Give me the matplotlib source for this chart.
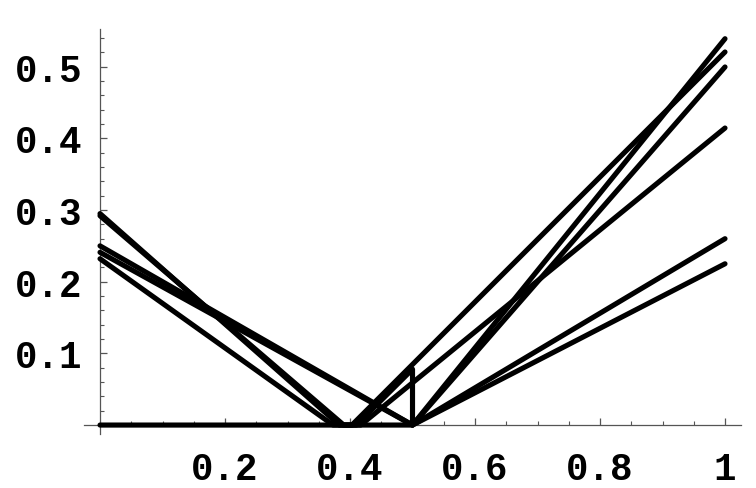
import matplotlib
import matplotlib.pyplot as plt
from matplotlib.ticker import MultipleLocator

matplotlib.pyplot.switch_backend('Agg')

# piecewise linear curves
x_a1 = [0, 0.383, 0.403, 1]
y_a1 = [0.295, 0, 0, 0.5205]
x_a2 = [0, 0.39, 0.417, 1]
y_a2 = [0.292, 0, 0, 0.4144]
x_d = [0, 0.373, 0.41, 0.5, 0.5, 1]
y_d = [0.232, 0, 0, 0.078, 0, 0.539]
x_b = [0, 0.5, 1]
y_b = [0.250, 0, 0.26]
x_c = [0, 0.5, 1]
y_c = [0.241, 0, 0.225]
x_z = [0, 0.5, 1]
y_z = [0, 0, 0.4996]

x_ticks = [0.2, 0.4, 0.6, 0.8, 1]
x_labels = ["0.2", "0.4", "0.6", "0.8", "1"]
y_ticks = [0.1, 0.2, 0.3, 0.4, 0.5]
y_labels = ["0.1", "0.2", "0.3", "0.4", "0.5"]

fig = plt.figure(figsize=(7.56, 4.89), dpi=100)
ax = fig.add_axes([0.1108, 0.1104, 0.8697, 0.8289])

for xs, ys in [(x_z, y_z), (x_a1, y_a1), (x_a2, y_a2), (x_d, y_d), (x_b, y_b), (x_c, y_c)]:
    ax.plot(xs, ys, color="black", linewidth=3.7, solid_capstyle="round",
            solid_joinstyle="round", clip_on=False, zorder=3)

ax.set_xlim(-0.026, 1.026)
ax.set_ylim(-0.0125, 0.553)

for side in ["top", "right"]:
    ax.spines[side].set_visible(False)
ax.spines["left"].set_position(("data", 0))
ax.spines["bottom"].set_position(("data", 0))
for side in ["left", "bottom"]:
    ax.spines[side].set_color("#555555")
    ax.spines[side].set_linewidth(0.9)

ax.set_xticks(x_ticks)
ax.set_xticklabels(x_labels)
ax.set_yticks(y_ticks)
ax.set_yticklabels(y_labels)
ax.xaxis.set_minor_locator(MultipleLocator(0.05))
ax.yaxis.set_minor_locator(MultipleLocator(0.02))

ax.tick_params(axis="both", which="major", direction="in", length=5, width=0.9, color="#555555")
ax.tick_params(axis="both", which="minor", direction="in", length=3, width=0.8, color="#555555")
ax.tick_params(axis="x", which="major", pad=19)
ax.tick_params(axis="y", which="major", pad=13)

for lab in ax.get_xticklabels() + ax.get_yticklabels():
    lab.set_fontfamily("Liberation Mono")
    lab.set_fontweight("bold")
    lab.set_fontsize(27)

plt.savefig("out.png", dpi=100)
